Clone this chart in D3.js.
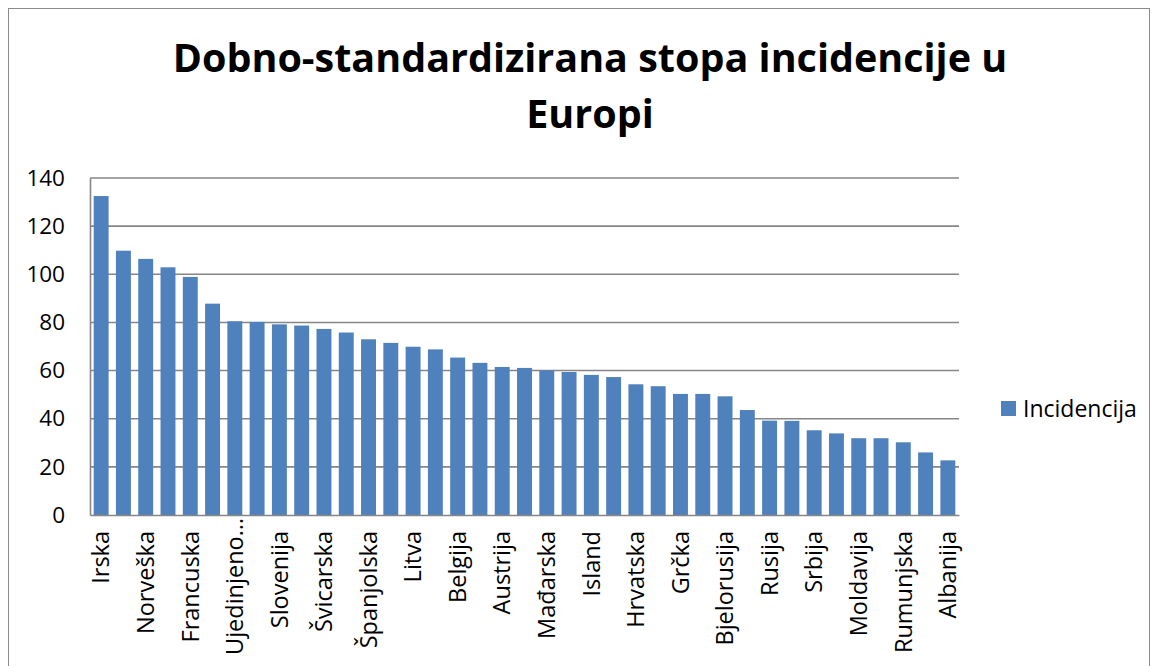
<!DOCTYPE html>
<html>
<head>
<meta charset="utf-8">
<script src="https://cdn.jsdelivr.net/npm/d3@7"></script>
<style>
  body { margin: 0; background: #fff; }
  svg { display: block; font-family: "Open Sans", sans-serif; }
</style>
</head>
<body>
<div class="chart"></div>
<script>
// countries, sorted by incidence (only every second one gets a visible label)
var countries = ['Irska', 'Danska', 'Norveška', 'Nizozemska', 'Francuska', 'Švedska',
    'Ujedinjeno Kraljevstvo', 'Finska', 'Slovenija', 'Njemačka', 'Švicarska', 'Luksemburg',
    'Španjolska', 'Italija', 'Litva', 'Češka', 'Belgija', 'Estonija', 'Austrija', 'Portugal',
    'Mađarska', 'Latvija', 'Island', 'Slovačka', 'Hrvatska', 'Poljska', 'Grčka', 'Malta',
    'Bjelorusija', 'Bugarska', 'Rusija', 'Makedonija', 'Srbija', 'Ukrajina', 'Moldavija',
    'BiH', 'Rumunjska', 'Crna Gora', 'Albanija'];
var incidencija = [132.5, 109.8, 106.4, 102.9, 98.9, 87.8, 80.5, 80.2, 79.2, 78.7, 77.3, 75.8,
    73.0, 71.5, 69.9, 68.8, 65.4, 63.2, 61.5, 61.1, 60.1, 59.4, 58.2, 57.3, 54.3, 53.5,
    50.3, 50.3, 49.3, 43.6, 39.2, 39.1, 35.2, 33.9, 31.9, 31.9, 30.2, 26.0, 22.7];
var yTicks = [0, 20, 40, 60, 80, 100, 120, 140];
var seriesName = 'Incidencija';
var title = ['Dobno-standardizirana stopa incidencije u', 'Europi'];

var W = 1157, H = 666;
var margin = { top: 178, right: 198, bottom: 151, left: 90 };
var width = W - margin.left - margin.right;
var height = H - margin.top - margin.bottom;

var svg = d3.select('.chart')
    .append('svg')
    .attr('width', W)
    .attr('height', H);

// outer frame
svg.append('rect')
    .attr('x', 8.5).attr('y', 8.5)
    .attr('width', 1141).attr('height', 680)
    .attr('fill', 'none')
    .attr('stroke', '#8c8c8c')
    .attr('stroke-width', 1);

svg.append('text')
    .attr('text-anchor', 'middle')
    .style('font-weight', 'bold')
    .style('font-size', '39.5px')
    .selectAll('tspan')
    .data(title)
    .enter()
    .append('tspan')
    .attr('x', 590)
    .attr('y', (d, i) => 72 + i * 56)
    .text(d => d);

var g = svg.append('g')
    .attr('transform', 'translate(' + margin.left + ', ' + margin.top + ')');

var data = countries.map((c, i) => ({ name: c, value: incidencija[i] }));

var yScale = d3.scaleLinear()
    .domain([0, 140])
    .range([height, 0]);

var xScale = d3.scaleBand()
    .domain(countries)
    .range([0, width])
    .paddingInner(0.33)
    .paddingOuter(0.165);

// gridlines
g.append('g')
    .selectAll('line')
    .data(yTicks.slice(1))
    .enter()
    .append('line')
    .attr('x1', 0)
    .attr('x2', width)
    .attr('y1', d => yScale(d))
    .attr('y2', d => yScale(d))
    .attr('stroke', '#868686')
    .attr('stroke-width', 1.6);

// y axis
var yAxis = g.append('g')
    .call(d3.axisLeft(yScale).tickValues(yTicks).tickSize(0).tickPadding(25));
yAxis.select('.domain').attr('stroke', '#868686').attr('stroke-width', 1.6);
yAxis.selectAll('text')
    .style('font-size', '22.5px')
    .style('font-family', '"Open Sans", sans-serif')
    .attr('fill', '#000');

// bars
g.selectAll('rect.bar')
    .data(data)
    .enter()
    .append('rect')
    .attr('class', 'bar')
    .attr('x', d => xScale(d.name))
    .attr('width', xScale.bandwidth())
    .attr('y', d => yScale(d.value))
    .attr('height', d => height - yScale(d.value))
    .attr('fill', '#4f81bd');

// x axis, every second label like the original
var shown = countries.filter((c, i) => i % 2 === 0);
var xAxis = g.append('g')
    .attr('transform', 'translate(0, ' + height + ')')
    .call(d3.axisBottom(xScale).tickValues(shown).tickSize(0).tickPadding(0));
xAxis.select('.domain').attr('stroke', '#868686').attr('stroke-width', 1.6);
xAxis.selectAll('text')
    .style('font-size', '23.5px')
    .style('font-family', '"Open Sans", sans-serif')
    .attr('fill', '#000')
    .attr('text-anchor', 'end')
    .attr('dy', '0.35em')
    // the truncated long name sits right against the axis, as in Excel
    .attr('transform', d => 'translate(0, ' + (d.length > 12 ? 3 : 16) + ') rotate(-90)')
    .text(d => d.length > 12 ? 'Ujedinjeno…' : d);

// legend
var legend = svg.append('g')
    .attr('transform', 'translate(1001, 401)');
legend.append('rect')
    .attr('width', 15)
    .attr('height', 15)
    .attr('fill', '#4f81bd');
legend.append('text')
    .attr('x', 22)
    .attr('y', 16)
    .style('font-size', '23px')
    .text(seriesName);
</script>
</body>
</html>
